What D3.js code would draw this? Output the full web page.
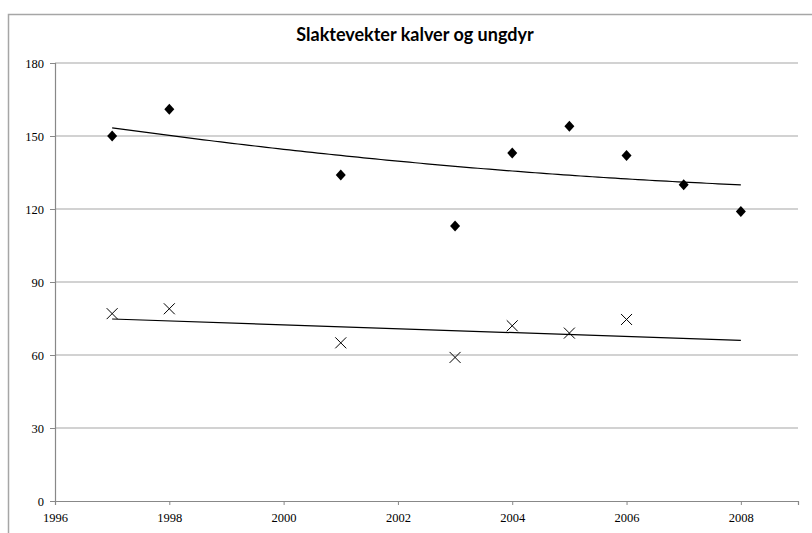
<!DOCTYPE html>
<html>
<head>
<meta charset="utf-8">
<script src="https://cdn.jsdelivr.net/npm/d3@7"></script>
<style>
  body { margin: 0; background: #fff; }
  svg { display: block; }
</style>
</head>
<body>
<div id="chart"></div>
<script>
// Chart values
const title = "Slaktevekter kalver og ungdyr";
const yearsKalver = [1997, 1998, 2001, 2003, 2004, 2005, 2006, 2007, 2008];
const kalver = [150, 161, 134, 113, 143, 154, 142, 130, 119];
const yearsUngdyr = [1997, 1998, 2001, 2003, 2004, 2005, 2006];
const ungdyr = [77, 79, 65, 59, 72, 69, 74.6];
const ungdyrTrendEnd = 2008; // trend line extended forward
const yTicks = [0, 30, 60, 90, 120, 150, 180];
const xTicks = [1996, 1998, 2000, 2002, 2004, 2006, 2008];

const width = 812;
const height = 533;
const margin = {left: 55, right: 14, top: 63, bottom: 32};

const svg = d3.select("#chart")
  .append("svg")
  .attr("width", width)
  .attr("height", height);

// outer chart frame (runs off the right and bottom edge)
svg.append("rect")
  .attr("x", 8.5).attr("y", 14.5)
  .attr("width", width + 20).attr("height", height + 20)
  .attr("fill", "none")
  .attr("stroke", "#a6a6a6")
  .attr("stroke-width", 1.5);

const x = d3.scaleLinear()
  .domain([1996, 2009])
  .range([margin.left, width - margin.right]);

const y = d3.scaleLinear()
  .domain([0, 180])
  .range([height - margin.bottom, margin.top]);

// gridlines
svg.append("g")
  .selectAll("line")
  .data(yTicks.filter(d => d > 0))
  .join("line")
    .attr("x1", x(1996)).attr("x2", x(2009))
    .attr("y1", d => y(d)).attr("y2", d => y(d))
    .attr("stroke", "#a6a6a6")
    .attr("stroke-width", 1.2);

// axes
const yAxis = svg.append("g")
  .attr("transform", `translate(${x(1996)},0)`)
  .call(d3.axisLeft(y).tickValues(yTicks).tickSize(5).tickPadding(6));

const xAxis = svg.append("g")
  .attr("transform", `translate(0,${y(0)})`)
  .call(d3.axisBottom(x).tickValues(xTicks).tickFormat(d3.format("d")).tickSize(4).tickPadding(8));

[xAxis, yAxis].forEach(g => {
  g.select(".domain").attr("stroke", "#888").attr("stroke-width", 1.2);
  g.selectAll(".tick line").attr("stroke", "#888");
  g.selectAll(".tick text")
    .attr("fill", "#000")
    .style("font-family", "'Liberation Serif', 'Times New Roman', serif")
    .style("font-size", "12.5px");
});

// title
svg.append("text")
  .attr("x", 415)
  .attr("y", 41)
  .attr("text-anchor", "middle")
  .style("font-family", "Lato, 'Open Sans', sans-serif")
  .style("font-weight", "bold")
  .style("font-size", "18px")
  .text(title);

// least squares polynomial fit
function polyfit(xs, ys, order) {
  const n = order + 1;
  const A = [];
  for (let r = 0; r < n; r++) {
    A.push([]);
    for (let c = 0; c < n; c++) A[r].push(d3.sum(xs, v => Math.pow(v, r + c)));
    A[r].push(d3.sum(xs, (v, i) => Math.pow(v, r) * ys[i]));
  }
  for (let i = 0; i < n; i++) {
    for (let k = i + 1; k < n; k++) {
      const f = A[k][i] / A[i][i];
      for (let j = i; j <= n; j++) A[k][j] -= f * A[i][j];
    }
  }
  const coef = new Array(n).fill(0);
  for (let i = n - 1; i >= 0; i--) {
    let s = A[i][n];
    for (let j = i + 1; j < n; j++) s -= A[i][j] * coef[j];
    coef[i] = s / A[i][i];
  }
  return t => coef.reduce((acc, c, i) => acc + c * Math.pow(t, i), 0);
}

const base = 2003;
const fitK = polyfit(yearsKalver.map(d => d - base), kalver, 2);
const fitU = polyfit(yearsUngdyr.map(d => d - base), ungdyr, 1);

const line = d3.line().x(d => x(d[0])).y(d => y(d[1]));

const trendK = d3.range(yearsKalver[0], d3.max(yearsKalver) + 0.001, 0.1)
  .map(t => [t, fitK(t - base)]);
const trendU = [yearsUngdyr[0], ungdyrTrendEnd].map(t => [t, fitU(t - base)]);

svg.append("path")
  .attr("d", line(trendK))
  .attr("fill", "none")
  .attr("stroke", "#000")
  .attr("stroke-width", 1.2);

svg.append("path")
  .attr("d", line(trendU))
  .attr("fill", "none")
  .attr("stroke", "#000")
  .attr("stroke-width", 1.2);

// diamond markers
svg.append("g")
  .selectAll("path")
  .data(kalver)
  .join("path")
    .attr("transform", (d, i) => `translate(${x(yearsKalver[i])},${y(d)})`)
    .attr("d", "M0,-5.5L5,0L0,5.5L-5,0Z")
    .attr("fill", "#000");

// x markers
svg.append("g")
  .selectAll("path")
  .data(ungdyr)
  .join("path")
    .attr("transform", (d, i) => `translate(${x(yearsUngdyr[i])},${y(d)})`)
    .attr("d", "M-5.5,-5.5L5.5,5.5M-5.5,5.5L5.5,-5.5")
    .attr("fill", "none")
    .attr("stroke", "#000")
    .attr("stroke-width", 1);
</script>
</body>
</html>
